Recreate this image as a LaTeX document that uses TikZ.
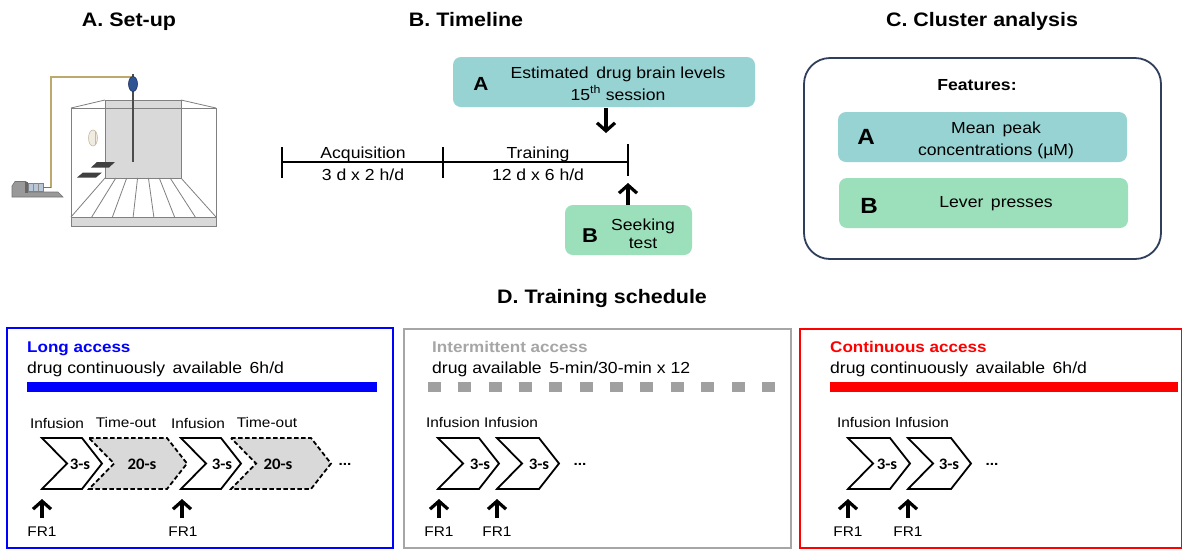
\documentclass[tikz,border=0pt]{standalone}
\usepackage{fontspec}
\setmainfont{Liberation Sans}[FakeStretch=1.1]
\newfontfamily\calfont{Carlito}[FakeStretch=1.05]
\usetikzlibrary{arrows.meta}

\definecolor{tealbox}{RGB}{151,211,211}
\definecolor{mintbox}{RGB}{155,224,186}
\definecolor{navyline}{RGB}{47,62,90}
\definecolor{cagegray}{RGB}{128,128,128}
\definecolor{wallgray}{RGB}{217,217,217}
\definecolor{ltgray}{RGB}{166,166,166}
\definecolor{sqgray}{RGB}{160,160,160}
\definecolor{tubetan}{RGB}{190,168,110}
\definecolor{swivelblue}{RGB}{46,84,150}
\definecolor{syrblue}{RGB}{185,198,215}
\definecolor{pureblue}{RGB}{0,0,255}
\definecolor{purered}{RGB}{255,0,0}
\definecolor{lampfill}{RGB}{240,236,226}
\definecolor{lampline}{RGB}{200,186,160}

\tikzset{
  ttl/.style={font=\fontsize{19.5}{22}\selectfont\bfseries, anchor=base, inner sep=0pt},
  lbl/.style={font=\fontsize{16}{18}\selectfont, anchor=base, inner sep=0pt},
  lblw/.style={lbl, anchor=base west},
  smalltxt/.style={font=\fontsize{14}{16}\selectfont, anchor=base, inner sep=0pt},
  letterA/.style={font=\fontsize{19}{22}\selectfont\bfseries, anchor=base, inner sep=0pt},
  letterC/.style={font=\fontsize{22}{24}\selectfont\bfseries, anchor=base, inner sep=0pt},
  head/.style={font=\fontsize{15.5}{18}\selectfont\bfseries, anchor=base west, inner sep=0pt},
  tbox/.style={rounded corners=8pt, draw=none, inner sep=0pt},
  tlline/.style={line width=1.6pt},
  bigarrow/.style={line width=3.2pt, -{Straight Barb[length=8pt,width=18pt]}},
  cage/.style={draw=cagegray, line width=0.8pt},
  chev/.style={draw=black, fill=white, line width=1.8pt, line join=miter},
  chevdash/.style={draw=black, fill=wallgray, line width=1.8pt, dash pattern=on 4.5pt off 2.5pt, line join=miter},
  dur/.style={font=\calfont\fontsize{16}{18}\selectfont\bfseries, anchor=base, inner sep=0pt},
  dots/.style={font=\fontsize{14}{16}\selectfont\bfseries, anchor=base, inner sep=0pt},
  panel/.style={line width=1.8pt},
  pics/chevron/.style={code={
    \path[pic actions] (0,0) -- (#1,0) -- (#1+20,25.5) -- (#1,51) -- (0,51) -- (25,25.5) -- cycle;
  }}
}

\begin{document}
\begin{tikzpicture}[x=1pt,y=-1pt]
\useasboundingbox (0,0) rectangle (1183,550);
\fill[white] (0,0) rectangle (1183,550);

% ---------- section titles ----------
\node[ttl] (tA) at (129,26) {A. Set-up};
\node[ttl] (tB) at (466,26) {B. Timeline};
\node[ttl] (tC) at (982,26) {C. Cluster analysis};
\node[ttl] (tD) at (602,303) {D. Training schedule};

% ---------- A. operant chamber ----------
\filldraw[cage, fill=wallgray] (71,217) rectangle (216,226);
\filldraw[cage, fill=wallgray] (105,100) rectangle (181,178);
\draw[cage] (71,108) rectangle (216,217);
\draw[cage] (71,108) -- (105,100) (216,108) -- (181,100);
\foreach \i in {0,...,7}
  \draw[cage] (105+\i*76/7,178) -- (71+\i*145/7,217);
% cue light
\filldraw[fill=lampfill, draw=lampline, line width=0.6pt] (93,138) ellipse (4.5 and 8);
\draw[lampline, line width=0.5pt] (95,131) -- (95,145);
% levers
\fill[black!75] (91,167.5) -- (97,162) -- (115,162) -- (109,167.5) -- cycle;
\fill[black!75] (77,177.5) -- (83,172.5) -- (102,172.5) -- (96,177.5) -- cycle;
% infusion line, tether and swivel
\draw[tubetan, line width=1.3pt] (133,77) -- (51,77) -- (51,188);
\draw[black!70, line width=2pt] (133,88) -- (133,162);
\fill[black!70] (131.8,73.5) rectangle (134.2,78);
\filldraw[fill=swivelblue, draw=swivelblue!60!black, line width=0.6pt] (133,84) ellipse (4.5 and 7.5);
% syringe pump
\filldraw[fill=black!40, draw=black!55, line width=0.6pt]
  (12,197) -- (63,197) -- (58,192) -- (26,192) -- (26,181.5) -- (15,181.5) -- (12,186) -- cycle;
\filldraw[fill=syrblue, draw=black!50, line width=0.6pt] (28,183) rectangle (43,191);
\draw[black!45, line width=0.5pt] (33,183) -- (33,191) (38,183) -- (38,191);
\fill[black!60] (24.5,181.5) rectangle (28,192.5);
\draw[black!55, line width=1pt] (43,187.5) -- (51,187.5);

% ---------- B. timeline ----------
\coordinate (t0) at (282,162);
\coordinate (t1) at (443,162);
\coordinate (t2) at (628,162);
\draw[tlline] (t0) -- (t2);
\draw[tlline] (282,147) -- (282,178);
\draw[tlline] (443,147) -- (443,178);
\draw[tlline] (628,144) -- (628,176);
\node[lbl] (acq) at (363,158) {Acquisition};
\node[lbl] (acqd) at (363,180) {3 d x 2 h/d};
\node[lbl] (trn) at (538,158) {Training};
\node[lbl] (trnd) at (538,180) {12 d x 6 h/d};

\node[tbox, fill=tealbox, minimum width=302pt, minimum height=50pt] (boxA) at (604,82) {};
\node[letterA] (boxAl) at (481,90) {A};
\node[lbl] (boxAt1) at (618,78) {Estimated \,drug brain levels};
\node[lbl] (boxAt2) at (618,100) {15\textsuperscript{th} session};

\node[tbox, fill=mintbox, minimum width=127pt, minimum height=50pt] (boxB) at (628.5,230) {};
\node[letterA, font=\fontsize{20}{22}\selectfont\bfseries] (boxBl) at (590,242) {B};
\node[lbl] (boxBt1) at (643,230) {Seeking};
\node[lbl] (boxBt2) at (643,248) {test};

\coordinate (aTop) at (606,108);
\coordinate (aEnd) at (606,133);
\draw[bigarrow] (aTop) -- (aEnd);
\coordinate (bBot) at (628,205);
\coordinate (bEnd) at (628,183);
\draw[bigarrow] (bBot) -- (bEnd);

% ---------- C. cluster analysis ----------
\node[draw=navyline, line width=1.8pt, rounded corners=26pt, minimum width=357pt, minimum height=201pt, inner sep=0pt] (clu) at (982.5,158.5) {};
\node[font=\fontsize{16}{18}\selectfont\bfseries, anchor=base, inner sep=0pt] (feat) at (977,90) {Features:};
\node[tbox, fill=tealbox, minimum width=289pt, minimum height=50pt] (cA) at (982.5,137) {};
\node[letterC] (cAl) at (866,144) {A};
\node[lbl] (cAt1) at (996,133) {Mean \,peak};
\node[lbl] (cAt2) at (996,155) {concentrations (µM)};
\node[tbox, fill=mintbox, minimum width=289pt, minimum height=50pt] (cB) at (983.5,203) {};
\node[letterC] (cBl) at (869,213) {B};
\node[lbl] (cBt) at (996,207) {Lever \,presses};

% ---------- D. training schedule ----------
% long access
\draw[panel, draw=pureblue] (7,328) rectangle (393,548);
\node[head, text=pureblue] (la) at (27,352) {Long access};
\node[lblw] (lad) at (27,373) {drug continuously \,available \,6h/d};
\fill[pureblue] (27,382) rectangle (377,392);
\node[smalltxt] (la1) at (57,428) {Infusion};
\node[smalltxt] (la2) at (126,427) {Time-out};
\node[smalltxt] (la3) at (198,428) {Infusion};
\node[smalltxt] (la4) at (267,427) {Time-out};
\pic[chev] at (42,438) {chevron=40};
\pic[chevdash] at (89,438) {chevron=78};
\pic[chev] at (181,438) {chevron=40};
\pic[chevdash] at (231,438) {chevron=80};
\node[dur] (ld1) at (80,469) {3-s};
\node[dur] (ld2) at (142,469) {20-s};
\node[dur] (ld3) at (222,469) {3-s};
\node[dur] (ld4) at (278,469) {20-s};
\node[dots] (ldots) at (345,465) {...};
\node[smalltxt] (lf1) at (42,536) {FR1};
\node[smalltxt] (lf2) at (183,536) {FR1};
\coordinate (lfa1) at (42,518); \coordinate (lfb1) at (42,499);
\coordinate (lfa2) at (182,518); \coordinate (lfb2) at (182,499);
\draw[bigarrow] (lfa1) -- (lfb1);
\draw[bigarrow] (lfa2) -- (lfb2);

% intermittent access
\draw[panel, line width=1.5pt, draw=ltgray] (404,329) rectangle (791,548);
\node[head, text=ltgray] (ia) at (432,352) {Intermittent access};
\node[lblw] (iad) at (432,373) {drug available \,5-min/30-min x 12};
\foreach \k in {0,...,11}
  \fill[sqgray] (428+\k*30.35,382) rectangle (441+\k*30.35,392);
\node[smalltxt] (ia1) at (453,427) {Infusion};
\node[smalltxt] (ia2) at (511,427) {Infusion};
\pic[chev] at (438,438) {chevron=41};
\pic[chev] at (497,438) {chevron=42};
\node[dur] (id1) at (480,469) {3-s};
\node[dur] (id2) at (539,469) {3-s};
\node[dots] (idots) at (580,465) {...};
\node[smalltxt] (if1) at (439,536) {FR1};
\node[smalltxt] (if2) at (497,536) {FR1};
\coordinate (ifa1) at (439,518); \coordinate (ifb1) at (439,499);
\coordinate (ifa2) at (497,518); \coordinate (ifb2) at (497,499);
\draw[bigarrow] (ifa1) -- (ifb1);
\draw[bigarrow] (ifa2) -- (ifb2);

% continuous access
\draw[panel, draw=purered] (800,329) rectangle (1181.5,548);
\node[head, text=purered] (ca) at (830,352) {Continuous access};
\node[lblw] (cad) at (830,373) {drug continuously \,available \,6h/d};
\fill[purered] (830,382) rectangle (1178,392);
\node[smalltxt] (ca1) at (864,427) {Infusion};
\node[smalltxt] (ca2) at (922,427) {Infusion};
\pic[chev] at (848,438) {chevron=42};
\pic[chev] at (908,438) {chevron=43};
\node[dur] (cd1) at (887,469) {3-s};
\node[dur] (cd2) at (949,469) {3-s};
\node[dots] (cdots) at (992,465) {...};
\node[smalltxt] (cf1) at (848,536) {FR1};
\node[smalltxt] (cf2) at (908,536) {FR1};
\coordinate (cfa1) at (848,518); \coordinate (cfb1) at (848,499);
\coordinate (cfa2) at (908,518); \coordinate (cfb2) at (908,499);
\draw[bigarrow] (cfa1) -- (cfb1);
\draw[bigarrow] (cfa2) -- (cfb2);
\end{tikzpicture}
\end{document}
